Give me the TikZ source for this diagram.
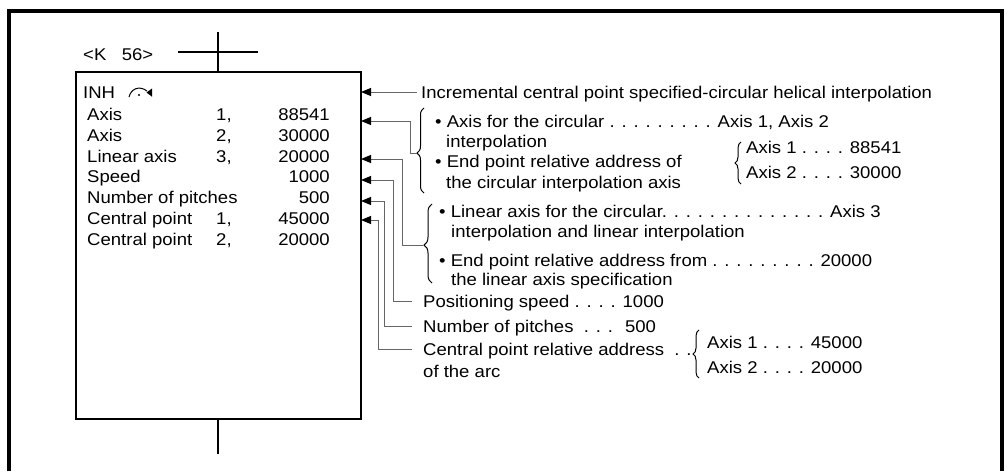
\documentclass[tikz,border=0pt]{standalone}
\usepackage{fontspec}
\setmainfont{Liberation Sans}[FakeStretch=1.09]
\usetikzlibrary{arrows.meta,decorations.pathreplacing}
\begin{document}
\begin{tikzpicture}[x=1pt,y=-1pt,
  txt/.style={inner sep=0pt, anchor=base west, font=\fontsize{17}{20}\selectfont},
  rtxt/.style={txt, anchor=base east},
  conn/.style={draw=black!60, line width=1pt},
  arr/.style={conn, -{Triangle[length=10pt,width=8pt,color=black]}},
  brc/.style={decorate, decoration={brace, amplitude=#1}, line width=1pt},
  brcasp/.style 2 args={decorate, decoration={brace, amplitude=#1, aspect=#2}, line width=1pt},
]
\useasboundingbox (0,0) rectangle (1008,471);
% outer frame
\draw[line width=4pt] (9,471) -- (9,11) -- (1002,11) -- (1002,471);
% program box
\node[draw, line width=2pt, minimum width=285pt, minimum height=347pt, anchor=north west, inner sep=0pt] (prog) at (75,71) {};
\coordinate (ct1) at (218,32);
\coordinate (ch1) at (178,52);
\coordinate (ch2) at (258,52);
\coordinate (cb1) at (218,454);
\draw[line width=1.5pt] (ct1) -- (ct1 |- prog.north);
\draw[line width=1.5pt] (ch1) -- (ch2);
\draw[line width=1.5pt] (cb1 |- prog.south) -- (cb1);
\node[txt] (kk) at (83,60) {<K\ \ \ 56>};
% INH line
\node[txt] (inh) at (83,98) {INH};
\draw[line width=1pt] (129,97) .. controls (131,89) and (139,85) .. (147,91);
\fill (146.5,92.5) -- (152,88.5) -- (152,96.7) -- cycle;
\fill (139,95) circle (1.2);
% rows
\node[txt] (r1) at (87,120.5) {Axis};
\node[txt] (r1n) at (216,120.5) {1,};
\node[rtxt] (r1v) at (330,120.5) {88541};
\node[txt] (r2) at (87,141.3) {Axis};
\node[txt] (r2n) at (216,141.3) {2,};
\node[rtxt] (r2v) at (330,141.3) {30000};
\node[txt] (r3) at (87,162.1) {Linear axis};
\node[txt] (r3n) at (216,162.1) {3,};
\node[rtxt] (r3v) at (330,162.1) {20000};
\node[txt] (r4) at (87,182.9) {Speed};
\node[rtxt] (r4v) at (330,182.9) {1000};
\node[txt] (r5) at (87,203.7) {Number of pitches};
\node[rtxt] (r5v) at (330,203.7) {500};
\node[txt] (r6) at (87,224.5) {Central point};
\node[txt] (r6n) at (216,224.5) {1,};
\node[rtxt] (r6v) at (330,224.5) {45000};
\node[txt] (r7) at (87,245.3) {Central point};
\node[txt] (r7n) at (216,245.3) {2,};
\node[rtxt] (r7v) at (330,245.3) {20000};
% right texts
\node[txt] (t1) at (421,98) {Incremental central point specified-circular helical interpolation};
\node[txt] (t2) at (435,127) {• Axis for the circular . . . . . . . . . Axis 1, Axis 2};
\node[txt] (t3) at (446,147) {interpolation};
\node[txt] (t4) at (435,167) {• End point relative address of};
\node[txt] (t5) at (446,188) {the circular interpolation axis};
\node[txt] (t6) at (746,153) {Axis 1 . . . . 88541};
\node[txt] (t7) at (746,178) {Axis 2 . . . . 30000};
\node[txt] (t8) at (439,217) {• Linear axis for the circular. . . . . . . . . . . . . . Axis 3};
\node[txt] (t9) at (451,237) {interpolation and linear interpolation};
\node[txt] (t10) at (439,266) {• End point relative address from . . . . . . . . . 20000};
\node[txt] (t11) at (451,285) {the linear axis specification};
\node[txt] (t12) at (423,307) {Positioning speed . . . . 1000};
\node[txt] (t13) at (423,332) {Number of pitches \ . . . \ 500};
\node[txt] (t14) at (423,355) {Central point relative address \ . .};
\node[txt] (t15) at (423,377) {of the arc};
\node[txt] (t16) at (707,348) {Axis 1 . . . . 45000};
\node[txt] (t17) at (707,373) {Axis 2 . . . . 20000};
% braces
\draw[brcasp={7pt}{0.47}] (424,193) -- (424,108);
\draw[brc=6pt] (741,184) -- (741,142);
\draw[brcasp={8pt}{0.48}] (432,283) -- (432,204);
\draw[brc=6pt] (699,378) -- (699,330);
% connector anchor coordinates
\coordinate (e1) at (361,92);
\coordinate (e2) at (361,121);
\coordinate (e3) at (361,159);
\coordinate (e4) at (361,180);
\coordinate (e5) at (361,201);
\coordinate (e6) at (361,220);
\coordinate (s1) at (417,92);
\coordinate (s2) at (417,153);
\coordinate (s3) at (423,245);
\coordinate (s4) at (412,301);
\coordinate (s5) at (412,326);
\coordinate (s6) at (412,349);
\draw[arr] (s1) -- (e1);
\draw[arr] (s2) -- (410,153) -- (410,121) -- (e2);
\draw[arr] (s3) -- (402,245) -- (402,159) -- (e3);
\draw[arr] (s4) -- (393,301) -- (393,180) -- (e4);
\draw[arr] (s5) -- (384,326) -- (384,201) -- (e5);
\draw[arr] (s6) -- (378,349) -- (378,220) -- (e6);
\end{tikzpicture}
\end{document}
